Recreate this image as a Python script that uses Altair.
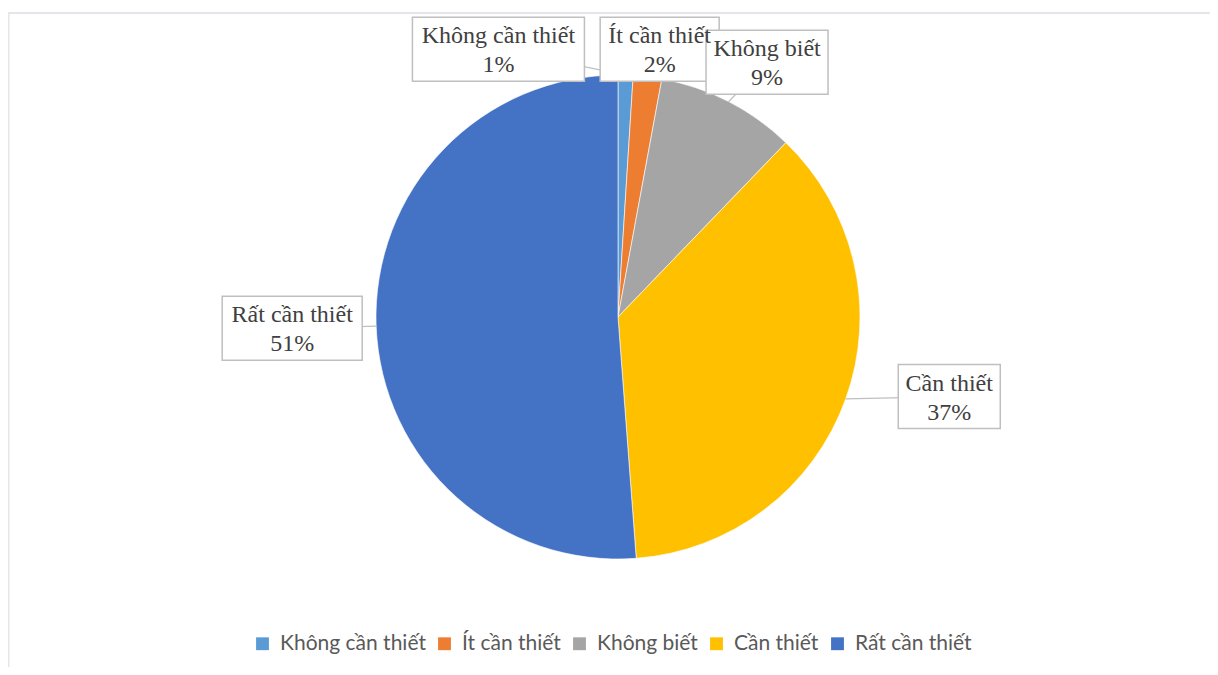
import altair as alt
import pandas as pd

# ---- data ----
categories = ["Không cần thiết", "Ít cần thiết", "Không biết", "Cần thiết", "Rất cần thiết"]
values = [1.0, 1.9, 9.3, 36.6, 51.2]
colors = ["#5B9BD5", "#ED7D31", "#A5A5A5", "#FFC000", "#4472C4"]

# ---- layout (label nudges and callout box widths, px) ----
label_dx = [-129, 5, 12, 49, -26]
label_dy = [32, 30, 12, -22, 0]
box_w = [172, 119, 122, 102, 140]

W, H = 1202, 659
CX, CY, R, RL = 610, 309, 242, 300

df = pd.DataFrame({
    "category": categories,
    "value": values,
    "order": list(range(len(categories))),
    "ndx": label_dx,
    "ndy": label_dy,
    "bw": box_w,
})

base = alt.Chart(df)

color = alt.Color(
    "category:N",
    scale=alt.Scale(domain=categories, range=colors),
    sort=categories,
    legend=alt.Legend(
        title=None,
        orient="none",
        direction="horizontal",
        legendX=244,
        legendY=625,
        symbolType="square",
        symbolSize=165,
        symbolStrokeWidth=0,
        labelFont="Lato",
        labelFontSize=21,
        labelColor="#595959",
        labelOffset=7,
        columnPadding=8,
        symbolOffset=0,
    ),
)

pie = base.mark_arc(radius=R, stroke="white", strokeWidth=0.6).encode(
    theta=alt.Theta("value:Q", stack=True),
    color=color,
    order=alt.Order("order:Q"),
    x=alt.value(CX),
    y=alt.value(CY),
)

geo = base.transform_joinaggregate(
    total="sum(value)"
).transform_window(
    cum="sum(value)", sort=[alt.SortField("order")], frame=[None, 0]
).transform_calculate(
    mid="(datum.cum - datum.value/2) / datum.total * 2 * PI",
).transform_calculate(
    lx=f"{CX} + {RL}*sin(datum.mid) + datum.ndx",
    ly=f"{CY} - {RL}*cos(datum.mid) + datum.ndy",
    ax=f"{CX} + {R}*sin(datum.mid)",
    ay=f"{CY} - {R}*cos(datum.mid)",
    bx1="datum.lx - datum.bw/2",
    bx2="datum.lx + datum.bw/2",
    by1="datum.ly - 32",
    by2="datum.ly + 32",
    txt="[datum.category, format(datum.value/100, '.0%')]",
)

leaders = geo.mark_rule(color="#bfbfbf", strokeWidth=1.2).encode(
    x=alt.X("lx:Q", scale=None),
    y=alt.Y("ly:Q", scale=None),
    x2="ax:Q",
    y2="ay:Q",
)

boxes = geo.mark_rect(fill="white", stroke="#bfbfbf", strokeWidth=1.5).encode(
    x=alt.X("bx1:Q", scale=None),
    x2="bx2:Q",
    y=alt.Y("by1:Q", scale=None),
    y2="by2:Q",
)

texts = geo.mark_text(
    font="Times New Roman, Liberation Serif, DejaVu Serif, serif", fontSize=24, color="#404040",
    baseline="middle", align="center", lineHeight=29, dy=-13,
).encode(
    x=alt.X("lx:Q", scale=None),
    y=alt.Y("ly:Q", scale=None),
    text="txt:N",
)

frame_data = alt.Data(values=[{"a": 1}])
top_edge = alt.Chart(frame_data).mark_rule(color="#e3e6ea", strokeWidth=2).encode(
    x=alt.value(0), x2=alt.value(W), y=alt.value(5)
)
left_edge = alt.Chart(frame_data).mark_rule(color="#e3e6ea", strokeWidth=2).encode(
    x=alt.value(0.5), y=alt.value(4), y2=alt.value(H)
)

chart = alt.layer(top_edge, left_edge, pie, leaders, boxes, texts).properties(
    width=W, height=H, autosize="none", padding=0,
).configure_view(stroke=None)

chart.save("out.html", embed_options={"renderer": "svg", "actions": False})
